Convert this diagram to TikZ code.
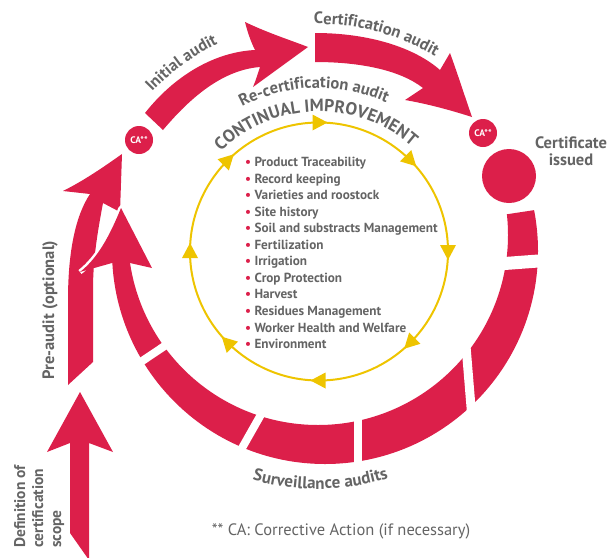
\documentclass[tikz,border=0pt]{standalone}
\usepackage{fontspec}
\setmainfont{PT Sans}
\usetikzlibrary{calc,decorations.text}
\definecolor{cred}{HTML}{DC1F4A}
\definecolor{cyel}{HTML}{EEC400}
\definecolor{cgray}{HTML}{646464}
\begin{document}
\begin{tikzpicture}[x=1pt,y=-1pt,
  lbl/.style={text=cgray,font=\bfseries\fontsize{16.5}{17.5}\selectfont},
  itemtxt/.style={text=cgray,font=\bfseries\fontsize{13.2}{15}\selectfont,anchor=base west,inner sep=0},
  catxt/.style={text=white,font=\bfseries\fontsize{9.5}{9.5}\selectfont,inner sep=0},
  arctext/.style 2 args={decorate,decoration={text along path,text align=center,
     text={|\bfseries\fontsize{#1}{#1}\selectfont\color{cgray}|#2}}},
  gap/.style={draw=white,line width=#1},
]
\useasboundingbox (0,0) rectangle (612,557);
\coordinate (Y) at (319,251.5);
\coordinate (C) at (318,251);

% ---- main ring (surveillance audits) ----
\begin{scope}
\clip (436,225) -- (601,200) -- (612,200) -- (612,557) -- (0,557) -- (0,258) -- (200,258) -- cycle;
\fill[cred,even odd rule] (325,251) circle[radius=213] (318,235) circle[radius=190];
\end{scope}
\draw[gap=13] (498,264) -- (545,260.5);
\draw[gap=9] (466,346) -- (471.5,413);
\draw[gap=8] (357.5,412) -- (357.5,470);
\draw[gap=8] (263,411) -- (237.5,456);
\draw[gap=8] (131,368.5) -- (172,341);

% ---- pre-audit arrow ----
\fill[cred] (122,154) -- (120,212) -- (103,203)
  .. controls (97,235) and (93,260) .. (93,290) -- (93,362) -- (68,385) -- (68,300)
  .. controls (68,250) and (76,215) .. (90,194)
  -- (63,191) .. controls (85,180) and (105,166) .. (122,154) -- cycle;

% ---- ring arrowhead ----
\draw[white,line width=5,line join=round] (80,272) .. controls (98,258) and (110,235) .. (121,208) -- (152,268);
\fill[cred] (80,272) .. controls (98,258) and (110,235) .. (121,208) -- (152,268) -- (130,263) -- (112,263) -- cycle;

% ---- definition arrow ----
\fill[cred] (80,392) -- (113,452) -- (89,443) -- (89,560) -- (70,533) -- (70,443) -- (47,452) -- cycle;

% ---- initial audit arrow ----
\fill[cred] (145,113) .. controls (175,75) and (215,52) .. (255,50)
  .. controls (250,40) and (247,30) .. (245,22)
  .. controls (268,33) and (290,40) .. (308,47)
  -- (253,87) .. controls (256,80) and (258,73) .. (260,67)
  .. controls (222,70) and (190,98) .. (163,130) -- cycle;

% ---- certification audit arrow ----
\fill[cred] (315,33) .. controls (370,33) and (415,48) .. (440,70)
  -- (450,53) .. controls (458,75) and (465,97) .. (472,117)
  .. controls (450,110) and (428,104) .. (405,100) -- (423,88)
  .. controls (400,70) and (360,62) .. (315,62) -- cycle;

% ---- circles ----
\fill[cred] (139,140) circle[radius=14];
\node[catxt] (ca1) at (139,140) {CA**};
\fill[cred] (483,133) circle[radius=14];
\node[catxt] (ca2) at (483,133) {CA**};
\fill[cred] (509,176) circle[radius=27];

% ---- yellow cycle ----
\draw[cyel,line width=2] (Y) circle[radius=129];
\foreach \a in {0,45,...,315}{
  \fill[cyel] ($(Y)+(\a:129)+(\a+90:8.5)$) -- ($(Y)+(\a:129)+(\a-90:6.5)+(\a:8)$) -- ($(Y)+(\a:129)+(\a-90:6.5)+(\a+180:8)$) -- cycle;
}

% ---- list ----
\foreach \t [count=\i] in {Product Traceability,Record keeping,Varieties and roostock,Site history,Soil and substracts Management,Fertilization,Irrigation,Crop Protection,Harvest,Residues Management,Worker Health and Welfare,Environment}{
  \node[itemtxt] (it\i) at (245,{166.5+16.55*(\i-1)}) {\textcolor{cred}{•} \t};
}

% ---- curved labels ----
\path[arctext={16.5}{Initial audit}] ($(C)+(194:230)$) arc[start angle=194,end angle=274,radius=230];
\path[arctext={16.5}{Certification audit}] ($(C)+(245:227)$) arc[start angle=245,end angle=325,radius=227];
\path[arctext={16.5}{Re-certification audit}] ($(C)+(218.5:163)$) arc[start angle=218.5,end angle=318.5,radius=163];
\path[arctext={17.5}{CONTINUAL IMPROVEMENT}] ($(Y)+(208.5:140)$) arc[start angle=208.5,end angle=328.5,radius=140];
\path[arctext={17}{Surveillance audits}] ($(C)+(129.4:238)$) arc[start angle=129.4,end angle=49.4,radius=238];

% ---- straight labels ----
\node[lbl,align=center] (cert) at (571,151) {Certificate\\issued};
\node[lbl,rotate=90] (pre) at (50,310) {Pre-audit (optional)};
\node[lbl,rotate=90,align=left,anchor=north west,inner sep=0,font=\bfseries\fontsize{15.5}{18}\selectfont] (def) at (14,548) {Definition of\\certification\\scope};
\node[text=cgray,font=\fontsize{16.5}{18}\selectfont] (note) at (341,531) {** CA: Corrective Action (if necessary)};
\end{tikzpicture}
\end{document}
